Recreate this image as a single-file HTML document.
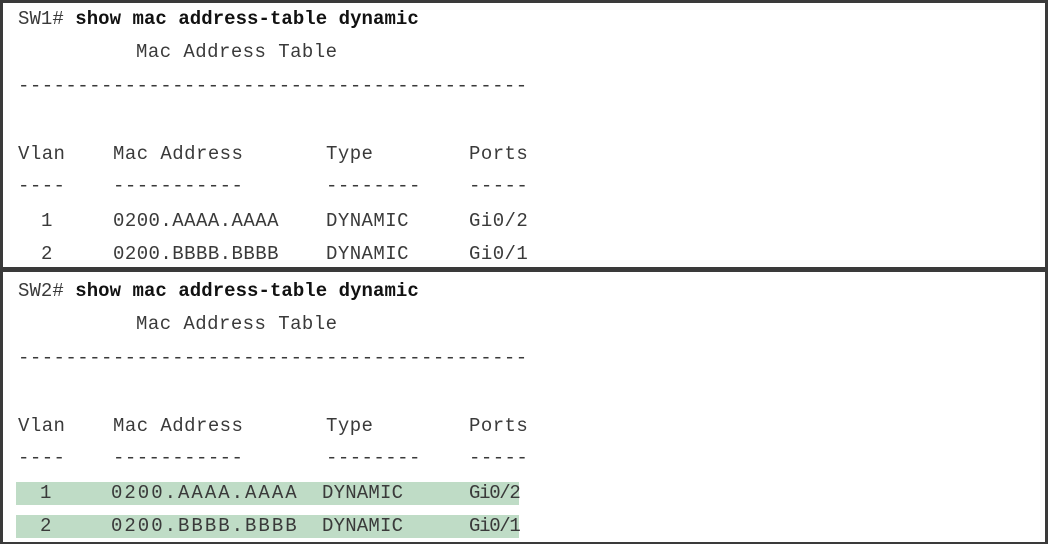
<!DOCTYPE html>
<html><head><meta charset="utf-8"><style>
html,body{margin:0;padding:0;background:#fff}
#fig{position:relative;width:1048px;height:544px;overflow:hidden;background:#fff;font-family:"Liberation Mono",monospace;font-size:19px;letter-spacing:0.45px;color:#3a3a3a}
.box{position:absolute;left:0;width:1042px;border:3px solid #3a3a3a}
.l{position:absolute;white-space:pre;line-height:20px;height:20px}
b{color:#111;font-weight:bold}
.hl{position:absolute;left:16px;width:503px;height:23px;background:#bfdcc6}
</style></head><body>
<div id="fig">
<div class="box" style="top:0;height:264px"></div>
<div class="box" style="top:268px;height:270px;border-top-width:4px"></div>
<div class="hl" style="top:482px"></div>
<div class="hl" style="top:515px"></div>
<div id="lines"></div>
</div>
<script>
const host=document.getElementById('lines');
function line(y,x,html,name,ls){
  const d=document.createElement('div');
  d.className='l';d.style.top=(y-10)+'px';d.style.left=x+'px';d.innerHTML=html;
  if(ls!==undefined)d.style.letterSpacing=ls+'px';
  
  
  host.appendChild(d);
}
const dashes='-------------------------------------------';
function block(o,sw,cols2,ls){
  line(o+19,18,sw+'# <b>show mac address-table dynamic</b>','command-'+sw.toLowerCase(),0.05);
  line(o+52,136,'Mac Address Table','table-title');
  line(o+86,18,dashes,'separator');
  line(o+154,18,'Vlan','header-vlan');line(o+154,113,'Mac Address','header-mac');
  line(o+154,326,'Type','header-type');line(o+154,469,'Ports','header-ports');
  line(o+186,18,'----','dash-vlan');line(o+186,113,'-----------','dash-mac');
  line(o+186,326,'--------','dash-type');line(o+186,469,'-----','dash-ports');
  const rows=[['1','0200.AAAA.AAAA','DYNAMIC','Gi0/2'],['2','0200.BBBB.BBBB','DYNAMIC','Gi0/1']];
  rows.forEach((r,i)=>{
    const y=o+(i?254:221);
    line(y,cols2[0],r[0],'vlan-cell');line(y,cols2[1],r[1],'mac-cell',ls[0]);
    line(y,cols2[2],r[2],'type-cell',ls[1]);line(y,cols2[3],r[3],'port-cell',ls[2]);
  });
}
block(0,'SW1',[41,113,326,469],[0.45,0.45,0.45]);
block(272,'SW2',[40,111,322,469],[2.0,0.2,-1.3]);
</script>
</body></html>
